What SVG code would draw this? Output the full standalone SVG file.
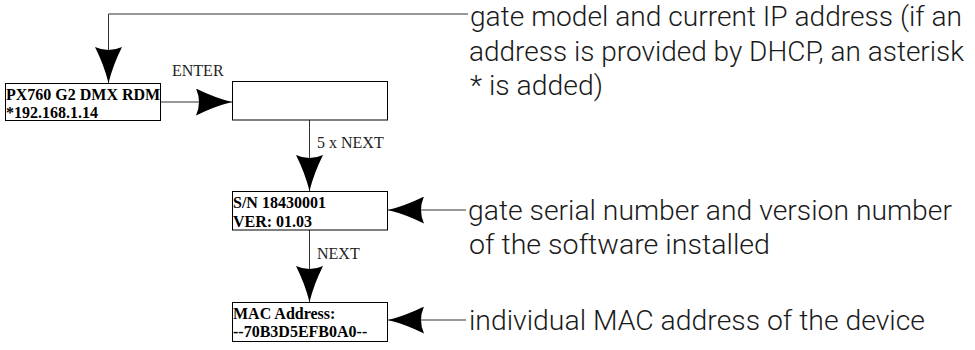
<svg xmlns="http://www.w3.org/2000/svg" width="975" height="350" viewBox="0 0 975 350">
  <style>
    .box { fill: #ffffff; stroke: #000000; stroke-width: 1; }
    .val { font-family: "Liberation Serif", "Times New Roman", serif; font-weight: bold; font-size: 16px; fill: #000000; }
    .key { font-family: "Liberation Serif", "Times New Roman", serif; font-size: 16px; fill: #222222; }
    .note { font-family: Roboto, "Liberation Sans", sans-serif; font-weight: 300; font-size: 28px; fill: #1a1a1a; }
    .wire { fill: none; stroke: #333333; stroke-width: 1; marker-end: url(#head); }
  </style>
  <defs>
    <!-- concave-backed arrowhead, tip at the line end -->
    <marker id="head" markerUnits="userSpaceOnUse" viewBox="0 0 36 27" markerWidth="36" markerHeight="27" refX="36" refY="13.5" orient="auto">
      <path d="M36,13.5 Q18,9 0,0 Q6,13.5 0,27 Q18,18 36,13.5 Z" fill="#000000"/>
    </marker>
  </defs>

  <g id="connectors">
    <path class="wire" d="M468,14 H108.5 V83"/>
    <path class="wire" d="M160,102 H232"/>
    <path class="wire" d="M309.5,120 V191"/>
    <path class="wire" d="M309.5,230 V302"/>
    <path class="wire" d="M466,210 H388"/>
    <path class="wire" d="M466,320 H388"/>
    <text class="key" x="172" y="76">ENTER</text>
    <text class="key" x="317" y="148">5 x NEXT</text>
    <text class="key" x="317" y="259">NEXT</text>
  </g>

  <g id="node-model">
    <rect class="box" x="5.5" y="83.5" width="155" height="37"/>
    <text class="val" x="6" y="100">PX760 G2 DMX RDM</text>
    <text class="val" x="6" y="118">*192.168.1.14</text>
  </g>

  <g id="node-blank">
    <rect class="box" x="232.5" y="81.5" width="155" height="38.5"/>
  </g>

  <g id="node-serial">
    <rect class="box" x="232.5" y="191.5" width="155" height="38.5"/>
    <text class="val" x="233" y="207.5">S/N 18430001</text>
    <text class="val" x="233" y="226.5">VER: 01.03</text>
  </g>

  <g id="node-mac">
    <rect class="box" x="232.5" y="302.5" width="155" height="39"/>
    <text class="val" x="233" y="318.5">MAC Address:</text>
    <text class="val" x="233" y="337">--70B3D5EFB0A0--</text>
  </g>

  <g id="note-model">
    <text class="note" x="470" y="26" textLength="492" lengthAdjust="spacingAndGlyphs">gate model and current IP address (if an</text>
    <text class="note" x="469" y="61" textLength="495" lengthAdjust="spacingAndGlyphs">address is provided by DHCP, an asterisk</text>
    <text class="note" x="470" y="95" textLength="133" lengthAdjust="spacingAndGlyphs">* is added)</text>
  </g>

  <g id="note-serial">
    <text class="note" x="468" y="220" textLength="484" lengthAdjust="spacingAndGlyphs">gate serial number and version number</text>
    <text class="note" x="469" y="254" textLength="301" lengthAdjust="spacingAndGlyphs">of the software installed</text>
  </g>

  <g id="note-mac">
    <text class="note" x="469" y="330" textLength="456" lengthAdjust="spacingAndGlyphs">individual MAC address of the device</text>
  </g>
</svg>
